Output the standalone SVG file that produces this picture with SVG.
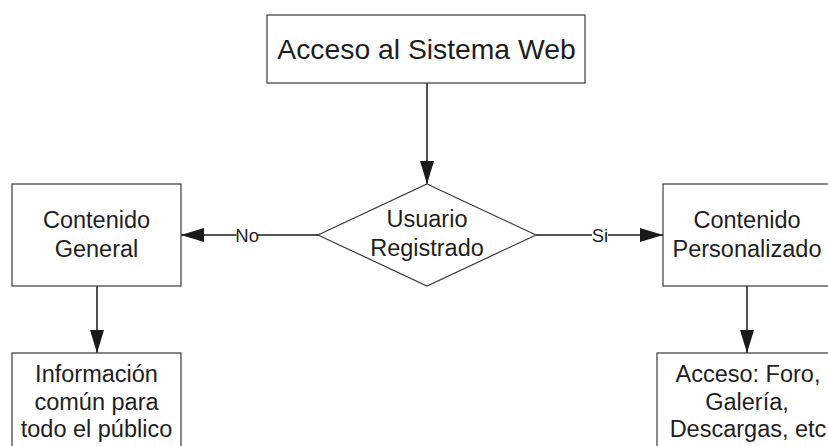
<svg xmlns="http://www.w3.org/2000/svg" width="828" height="446" viewBox="0 0 828 446">
<defs>
<style>
.box{fill:#fff;stroke:#3a3a3a;stroke-width:1.2}
.t{font-family:"Liberation Sans",Arial,sans-serif;font-size:23.5px;fill:#1e1e1e;text-anchor:middle}
.title{font-size:28.3px}
.lbl{font-family:"Liberation Sans",Arial,sans-serif;font-size:18.5px;fill:#1e1e1e;text-anchor:middle}
.edge{stroke:#1a1a1a;stroke-width:1.5;fill:none}
</style>
<marker id="arr" viewBox="0 0 23 14" refX="23" refY="7" markerWidth="23" markerHeight="14" markerUnits="userSpaceOnUse" orient="auto">
<path d="M0,0 L23,7 L0,14 Z" fill="#1a1a1a"/>
</marker>
</defs>
<rect width="828" height="446" fill="#fff"/>
<g id="edges">
<line class="edge" x1="427" y1="83" x2="427" y2="184" marker-end="url(#arr)"/>
<line class="edge" x1="318" y1="235" x2="181" y2="235" marker-end="url(#arr)"/>
<line class="edge" x1="536" y1="235" x2="663" y2="235" marker-end="url(#arr)"/>
<line class="edge" x1="97" y1="286" x2="97" y2="353" marker-end="url(#arr)"/>
<line class="edge" x1="747" y1="286" x2="747" y2="353" marker-end="url(#arr)"/>
<rect x="236.5" y="226" width="21.5" height="18" fill="#fff"/>
<text class="lbl" x="247.2" y="241.5">No</text>
<rect x="592" y="226" width="16" height="18" fill="#fff"/>
<text class="lbl" x="600" y="241.5">Si</text>
</g>
<g id="n_acceso">
<rect class="box" x="267" y="15" width="318" height="68"/>
<text class="t title" x="426.5" y="59">Acceso al Sistema Web</text>
</g>
<g id="n_usuario">
<polygon class="box" points="427,184 536,235 427,286 318,235"/>
<text class="t" x="427" y="227">Usuario</text>
<text class="t" x="427" y="256">Registrado</text>
</g>
<g id="n_general">
<rect class="box" x="12" y="184" width="169" height="102"/>
<text class="t" x="96.5" y="228">Contenido</text>
<text class="t" x="96.5" y="257">General</text>
</g>
<g id="n_personalizado">
<rect class="box" x="663" y="184" width="175" height="102"/>
<text class="t" x="747" y="228">Contenido</text>
<text class="t" x="747" y="257">Personalizado</text>
</g>
<g id="n_informacion">
<rect class="box" x="12" y="353" width="169" height="110"/>
<text class="t" x="96.5" y="382">Información</text>
<text class="t" x="96.5" y="410">común para</text>
<text class="t" x="96.5" y="437">todo el público</text>
</g>
<g id="n_accesoforo">
<rect class="box" x="657" y="353" width="185" height="110"/>
<text class="t" x="748" y="382">Acceso: Foro,</text>
<text class="t" x="747" y="410">Galería,</text>
<text class="t" x="748" y="437">Descargas, etc</text>
</g>
</svg>
